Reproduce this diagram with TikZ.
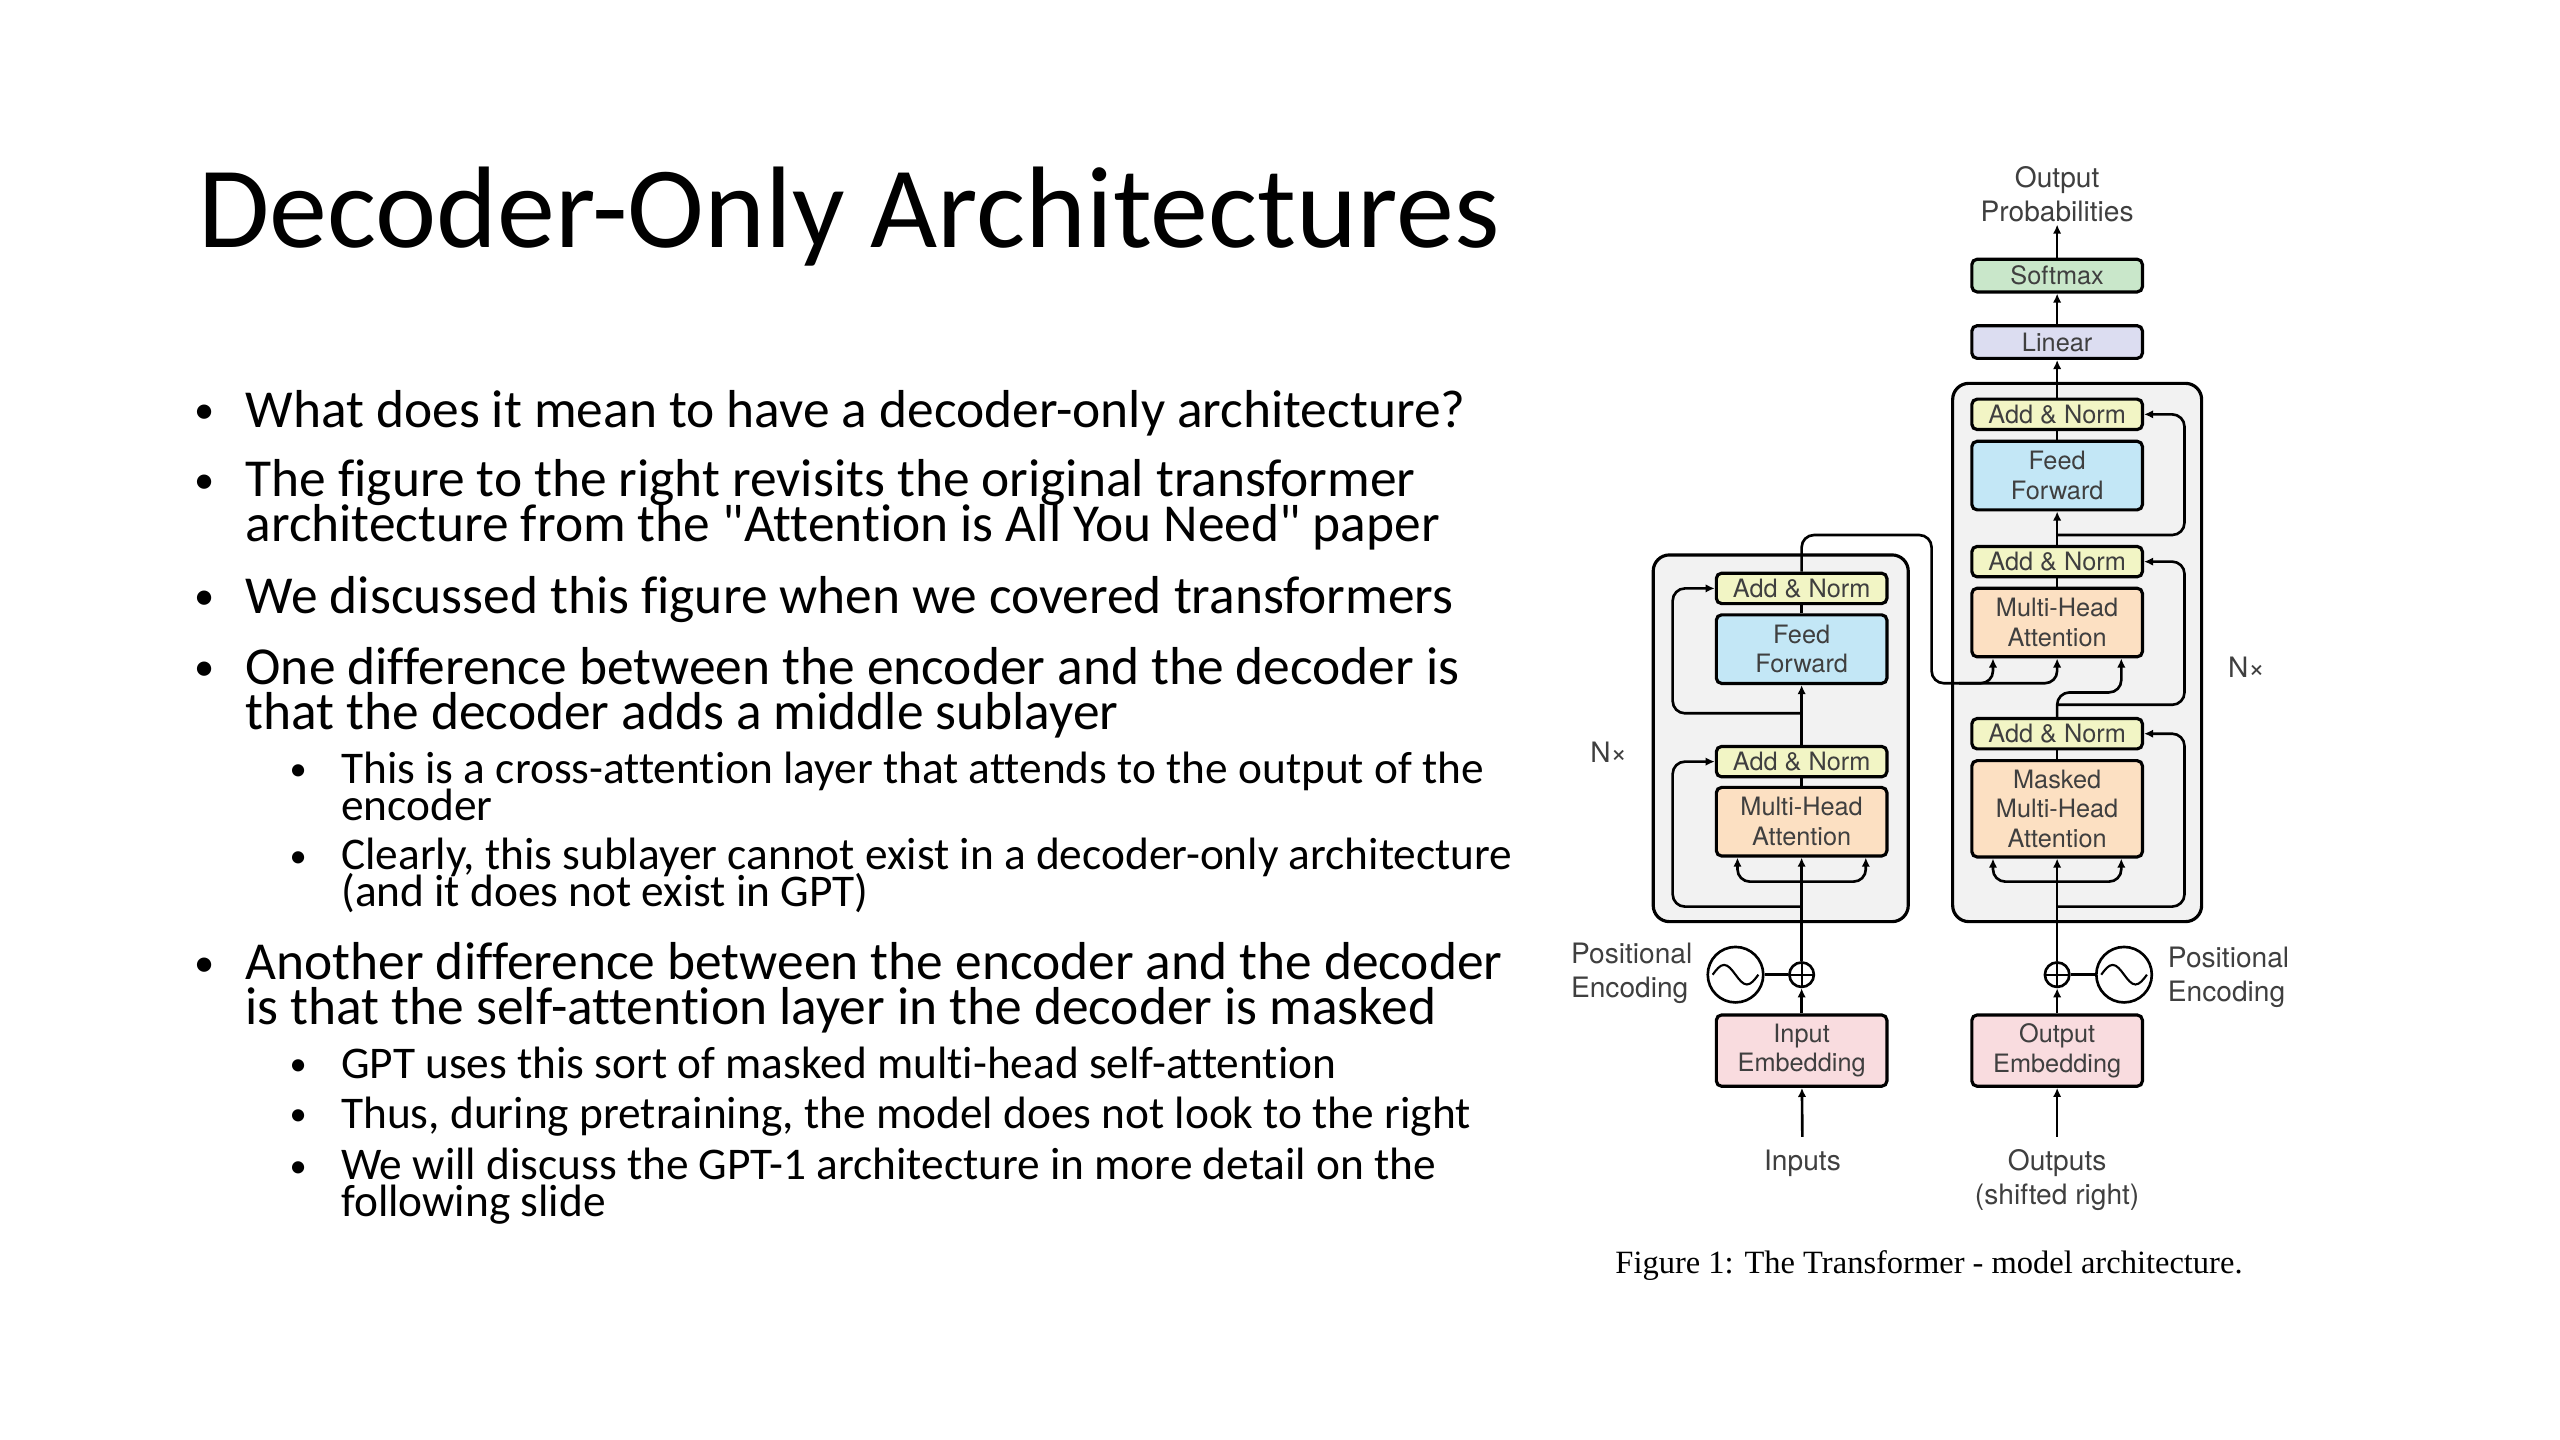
\documentclass[tikz,border=0pt]{standalone}
\usepackage{fontspec}
\setmainfont{Carlito}[Ligatures=NoCommon]
\newfontfamily\figfont{TeX Gyre Heros}
\newfontfamily\capfont{Liberation Serif}
\usetikzlibrary{arrows.meta,calc}
\definecolor{anorm}{HTML}{F2F5C5}
\definecolor{ffwd}{HTML}{C3E7F6}
\definecolor{attn}{HTML}{FCE0C2}
\definecolor{embd}{HTML}{F9DCDF}
\definecolor{smax}{HTML}{C9E7CA}
\definecolor{linr}{HTML}{DCDDF1}
\definecolor{stack}{HTML}{F2F2F2}
\definecolor{figtxt}{HTML}{3F3F3F}
\begin{document}
\begin{tikzpicture}[x=0.016327cm,y=-0.016327cm,
    body/.style={anchor=base west,inner sep=0pt,text depth=0pt,text height=1.4ex,font=\fontsize{15.2}{15.2}\selectfont},
    sub/.style={body,font=\fontsize{12.9}{12.9}\selectfont},
    dot/.style={anchor=base,inner sep=0pt,font=\fontsize{11.5}{11.5}\selectfont},
    subdot/.style={dot,font=\fontsize{9.8}{9.8}\selectfont},
    box/.style={draw,line width=0.9pt,rounded corners=1.5pt,minimum width=1.706cm,inner sep=0pt,
        align=center,text=figtxt,font=\figfont\fontsize{7.2}{8.4}\selectfont},
    an/.style={box,fill=anorm,minimum height=0.304cm},
    ff/.style={box,fill=ffwd,minimum height=0.686cm},
    mha/.style={box,fill=attn,minimum height=0.686cm},
    emb/.style={box,fill=embd,minimum height=0.713cm},
    lbl/.style={inner sep=0.5pt,align=center,text=figtxt,font=\figfont\fontsize{8}{9.75}\selectfont},
    conn/.style={line width=0.75pt,rounded corners=3.5pt},
    arr/.style={conn,-{Latex[length=2.6pt,width=2.4pt]}},
    stk/.style={draw,line width=0.9pt,fill=stack,rounded corners=4.6pt},
    plus/.style={circle,draw,line width=0.75pt,minimum size=0.245cm,inner sep=0pt,
        path picture={\draw[line width=0.6pt] (path picture bounding box.north) -- (path picture bounding box.south)
            (path picture bounding box.west) -- (path picture bounding box.east);}},
    sine/.style={circle,draw,line width=0.75pt,minimum size=0.555cm,inner sep=0pt,
        path picture={\draw[line width=0.6pt] ($(path picture bounding box.center)+(-14,0)$)
            sin ++(7,-6) cos ++(7,6) sin ++(7,6) cos ++(7,-6);}}]
    \fill[white] (0,0) rectangle (1568,882);
    % slide text
    \node[anchor=base west,inner sep=0pt,font=\fontsize{33}{33}\selectfont] (title) at (121,151.5) {Decoder-Only Architectures};
    \foreach[count=\i] \y/\t in {261.7/{What does it mean to have a decoder-only architecture?},
        304.2/{The figure to the right revisits the original transformer},
        331.7/{architecture from the \textquotedbl Attention is All You Need\textquotedbl{} paper},
        375.6/{We discussed this figure when we covered transformers},
        419.1/{One difference between the encoder and the decoder is},
        446.6/{that the decoder adds a middle sublayer},
        600.2/{Another difference between the encoder and the decoder},
        627.7/{is that the self-attention layer in the decoder is masked}} {
        \node[body] (ln\i) at (150,\y) {\t};
    }
    \foreach[count=\i] \y/\t in {479.7/{This is a cross-attention layer that attends to the output of the},
        502.6/{encoder},
        532.8/{Clearly, this sublayer cannot exist in a decoder-only architecture},
        555.3/{(and it does not exist in GPT)},
        660.4/{GPT uses this sort of masked multi-head self-attention},
        691/{Thus, during pretraining, the model does not look to the right},
        722.7/{We will discuss the GPT-1 architecture in more detail on the},
        745.1/{following slide}} {
        \node[sub] (sl\i) at (208.6,\y) {\t};
    }
    \foreach[count=\i] \y in {261.7,304.2,375.6,419.1,600.2}
        \node[dot] (bb\i) at (125.5,\y-2) {•};
    \foreach[count=\i] \y in {479.7,532.8,660.4,691,722.7}
        \node[subdot] (sb\i) at (182.7,\y-1.5) {•};
    % figure: the two stacks
    \draw[stk] (1012.6,339.9) rectangle (1168.8,564.5);
    \draw[stk] (1196,234.8) rectangle (1348.5,564.5);
    % encoder
    \node[an] (ean2) at (1103.5,360.4) {Add \& Norm};
    \node[ff] (eff) at (1103.5,397.6) {Feed\\Forward};
    \node[an] (ean1) at (1103.5,466.5) {Add \& Norm};
    \node[mha] (emha) at (1103.5,503.3) {Multi-Head\\Attention};
    \node[emb] (eemb) at (1103.5,643.5) {Input\\Embedding};
    \node[plus] (epl) at (1103.5,597) {};
    \node[sine] (esin) at (1063,597) {};
    % decoder
    \node[box,fill=smax,minimum height=0.327cm] (dsm) at (1260,168.8) {Softmax};
    \node[box,fill=linr,minimum height=0.327cm] (dlin) at (1260,209.5) {Linear};
    \node[an] (dan3) at (1260,253.8) {Add \& Norm};
    \node[ff] (dff) at (1260,291.3) {Feed\\Forward};
    \node[an] (dan2) at (1260,344) {Add \& Norm};
    \node[mha] (dmha) at (1260,381.3) {Multi-Head\\Attention};
    \node[an] (dan1) at (1260,449.4) {Add \& Norm};
    \node[mha,minimum height=0.963cm] (dmask) at (1260,495.4) {Masked\\Multi-Head\\Attention};
    \node[emb] (demb) at (1260,643.5) {Output\\Embedding};
    \node[plus] (dpl) at (1260,597) {};
    \node[sine] (dsin) at (1301,597) {};
    % labels
    \node[lbl] (outp) at (1260,119) {Output\\Probabilities};
    \node[lbl] (inp) at (1104,712.5) {Inputs};
    \node[lbl] (outs) at (1260,723) {Outputs\\(shifted right)};
    \node[lbl,align=left] (epos) at (999.4,596) {Positional\\Encoding};
    \node[lbl,align=left] (dpos) at (1365,598.8) {Positional\\Encoding};
    \node[lbl] (enx) at (985.3,460.5) {N×};
    \node[lbl] (dnx) at (1376,408.5) {N×};
    \node[inner sep=0pt,font=\capfont\fontsize{9.25}{9.25}\selectfont] (cap) at (1181.5,775) {Figure 1: The Transformer - model architecture.};
    % encoder connections
    \draw[arr,shorten <=3pt] (inp.north) -- (eemb);
    \draw[arr] (eemb) -- (epl);
    \draw[conn] (esin) -- (epl);
    \draw[arr] (epl) -- (emha);
    \coordinate (ebr) at (1103.5,540);
    \draw[arr] (ebr) -| ($(emha.south)+(-39.3,0)$);
    \draw[arr] (ebr) -| ($(emha.south)+(39.3,0)$);
    \coordinate (eres1) at (1103.5,555.3);
    \draw[arr] (eres1) -- ++(-79,0) |- (ean1.west);
    \draw[conn] (emha) -- (ean1);
    \draw[arr] (ean1) -- (eff);
    \draw[conn] (eff) -- (ean2);
    \coordinate (eres2) at (1103.5,436.9);
    \draw[arr] (eres2) -- ++(-79,0) |- (ean2.west);
    \coordinate (ekv) at (1183.1,418.5);
    \coordinate (ekv2) at (1200,418.5);
    \draw[arr] (ean2.north) |- (1183.1,327.7) -- (ekv) -| ($(dmha.south)+(-39.3,0)$);
    \draw[arr] (ekv2) -| (dmha.south);
    % decoder connections
    \draw[arr,shorten <=3pt] (outs.north) -- (demb);
    \draw[arr] (demb) -- (dpl);
    \draw[conn] (dpl) -- (dsin);
    \draw[arr] (dpl) -- (dmask);
    \coordinate (dbr) at (1260,540);
    \draw[arr] (dbr) -| ($(dmask.south)+(-39.3,0)$);
    \draw[arr] (dbr) -| ($(dmask.south)+(39.3,0)$);
    \coordinate (dres1) at (1260,555.3);
    \draw[arr] (dres1) -- ++(78,0) |- (dan1.east);
    \draw[conn] (dmask) -- (dan1);
    \draw[arr] (dan1.north) -- ++(0,-15) -| ($(dmha.south)+(39.3,0)$);
    \coordinate (dres2) at (1260,431.7);
    \draw[arr] (dres2) -- ++(78,0) |- (dan2.east);
    \draw[conn] (dmha) -- (dan2);
    \draw[arr] (dan2) -- (dff);
    \draw[conn] (dff) -- (dan3);
    \coordinate (dres3) at (1260,327.7);
    \draw[arr] (dres3) -- ++(78,0) |- (dan3.east);
    \draw[arr] (dan3) -- (dlin);
    \draw[arr] (dlin) -- (dsm);
    \draw[arr] (dsm) -- (outp);
\end{tikzpicture}
\end{document}
